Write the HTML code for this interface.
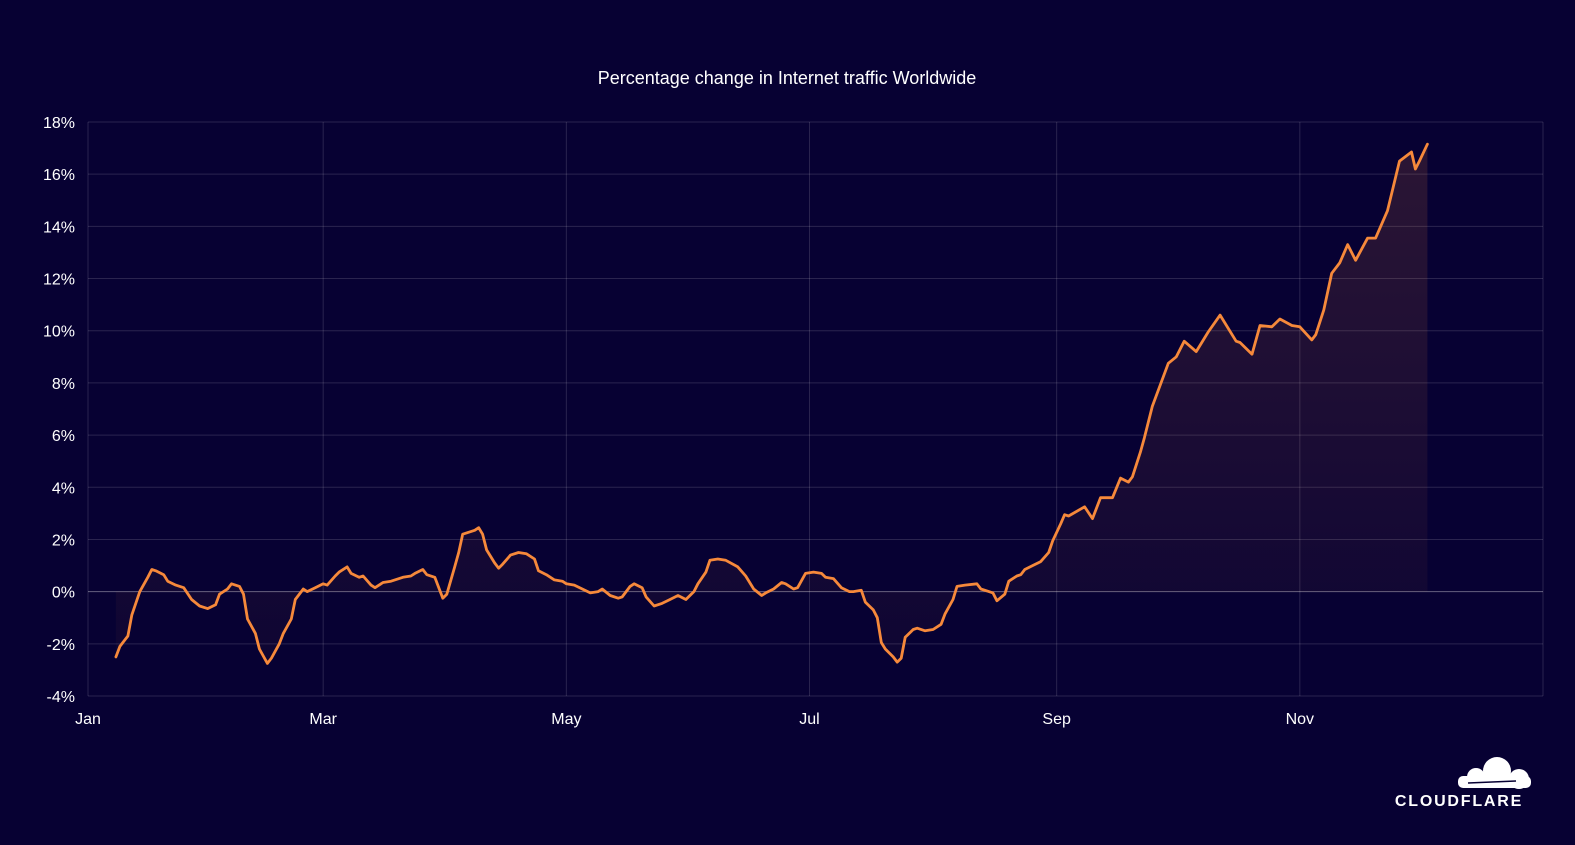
<!DOCTYPE html>
<html><head><meta charset="utf-8"><style>
body{margin:0;background:#070133;width:1575px;height:840px;overflow:hidden;font-family:"Liberation Sans",sans-serif}
</style></head><body>
<svg id="c" width="1575" height="840" xmlns="http://www.w3.org/2000/svg">
<defs><linearGradient id="g" x1="0" y1="0" x2="0" y2="1"><stop offset="0" stop-color="#f6893b" stop-opacity="0.15"/><stop offset="1" stop-color="#f6893b" stop-opacity="0.03"/></linearGradient></defs>
<rect width="1575" height="840" fill="#070133"/>
<text x="787" y="84" fill="#ffffff" font-size="18" text-anchor="middle">Percentage change in Internet traffic Worldwide</text>
<g id="grid"></g><g id="area"></g><g id="line"></g><g id="labels"></g>
<g>
<g fill="#ffffff"><circle cx="1497" cy="771" r="14"/><circle cx="1476" cy="777" r="9"/><circle cx="1519" cy="779" r="10"/><rect x="1458" y="776" width="73" height="12" rx="5"/></g>
<path d="M1468 783 L1516 781" stroke="#070133" stroke-width="1.5"/>
<text x="1459" y="806" fill="#ffffff" font-size="16" font-weight="bold" text-anchor="middle" letter-spacing="1.8">CLOUDFLARE</text>
</g>
</svg>
<script>
const days=[7,8,10,11,13,15,16,17,19,20,22,24,26,28,30,32,33,35,36,38,39,40,42,43,45,46,48,49,51,52,54,55,57,59,60,62,63,65,66,68,69,71,72,74,76,79,81,82,84,85,87,88,89,90,92,93,94,97,98,99,100,102,103,104,106,108,110,112,113,115,117,119,120,122,124,126,128,129,131,133,134,136,137,139,140,142,144,146,148,150,152,153,155,156,158,160,163,165,167,169,170,172,174,175,177,178,180,182,184,185,187,189,191,192,194,195,197,198,199,200,202,203,204,205,207,208,210,212,214,215,217,218,220,223,224,226,227,228,230,231,233,234,235,237,239,241,242,244,245,246,250,252,254,257,259,261,262,264,265,267,271,273,275,278,281,284,288,289,292,294,297,299,302,304,307,308,310,312,314,316,318,321,323,326,329,332,333,334,336];
const values=[-2.5,-2.1,-1.7,-0.9,0,0.55,0.85,0.8,0.65,0.4,0.25,0.15,-0.3,-0.55,-0.65,-0.5,-0.1,0.1,0.3,0.2,-0.1,-1.05,-1.6,-2.2,-2.75,-2.55,-2.0,-1.6,-1.05,-0.3,0.1,0,0.15,0.3,0.25,0.6,0.75,0.95,0.7,0.55,0.6,0.25,0.15,0.35,0.4,0.55,0.6,0.7,0.85,0.65,0.55,0.15,-0.25,-0.1,0.95,1.5,2.2,2.35,2.45,2.2,1.6,1.1,0.9,1.05,1.4,1.5,1.45,1.25,0.8,0.65,0.45,0.4,0.3,0.25,0.1,-0.05,0,0.1,-0.15,-0.25,-0.2,0.2,0.3,0.15,-0.2,-0.55,-0.45,-0.3,-0.15,-0.3,0,0.3,0.75,1.2,1.25,1.2,0.95,0.6,0.1,-0.15,-0.05,0.1,0.35,0.3,0.1,0.15,0.7,0.75,0.7,0.55,0.5,0.15,0,0,0.05,-0.4,-0.7,-1.0,-1.95,-2.2,-2.5,-2.7,-2.55,-1.75,-1.45,-1.4,-1.5,-1.45,-1.25,-0.85,-0.3,0.2,0.25,0.3,0.1,0,-0.05,-0.35,-0.1,0.4,0.6,0.65,0.85,1.0,1.15,1.5,1.95,2.6,2.95,2.9,3.25,2.8,3.6,3.6,4.35,4.2,4.4,5.35,5.9,7.1,8.75,9.0,9.6,9.2,9.95,10.6,9.6,9.55,9.1,10.2,10.15,10.45,10.2,10.15,9.65,9.85,10.8,12.2,12.6,13.3,12.7,13.55,13.55,14.6,16.5,16.85,16.2,16.5,17.15];
const yTicks=[18,16,14,12,10,8,6,4,2,0,-2,-4];
const monthDays=[0,59,120,181,243,304];
const monthLabels=["Jan","Mar","May","Jul","Sep","Nov"];
const X0=88,X1=1543,Y0=122,Y1=696,DMAX=365,VMIN=-4,VMAX=18;
const xs=d=>X0+(X1-X0)*d/DMAX;
const ys=v=>Y1-(Y1-Y0)*(v-VMIN)/(VMAX-VMIN);
const NS="http://www.w3.org/2000/svg";
function mk(t,a,p){const e=document.createElementNS(NS,t);for(const k in a)e.setAttribute(k,a[k]);document.getElementById(p).appendChild(e);return e;}
yTicks.forEach(v=>{
 const l=mk('line',{x1:X0,x2:X1,y1:ys(v),y2:ys(v),stroke:v===0?'rgba(255,255,255,0.38)':'rgba(255,255,255,0.14)','stroke-width':1},'grid');
 
 
 const t=mk('text',{x:75,y:ys(v)+6,fill:'#fff','font-size':16,'text-anchor':'end'},'labels');
 t.textContent=v+'%';
 
 
});
mk('line',{x1:X1,x2:X1,y1:Y0,y2:Y1,stroke:'rgba(255,255,255,0.14)'},'grid');
monthDays.forEach((d,i)=>{
 const l=mk('line',{x1:xs(d),x2:xs(d),y1:Y0,y2:Y1,stroke:'rgba(255,255,255,0.14)','stroke-width':1},'grid');
 
 
 const t=mk('text',{x:xs(d),y:724,fill:'#fff','font-size':16,'text-anchor':'middle'},'labels');
 t.textContent=monthLabels[i];
 
 
});
let p='';days.forEach((d,i)=>{p+=(i?'L':'M')+xs(d).toFixed(1)+' '+ys(values[i]).toFixed(1);});
const a=mk('path',{d:p+'L'+xs(days[days.length-1])+' '+ys(0)+'L'+xs(days[0])+' '+ys(0)+'Z',fill:'url(#g)'},'area');


const ln=mk('path',{d:p,fill:'none',stroke:'#f6893b','stroke-width':2.8,'stroke-linejoin':'round','stroke-linecap':'round'},'line');


</script>
</body></html>
